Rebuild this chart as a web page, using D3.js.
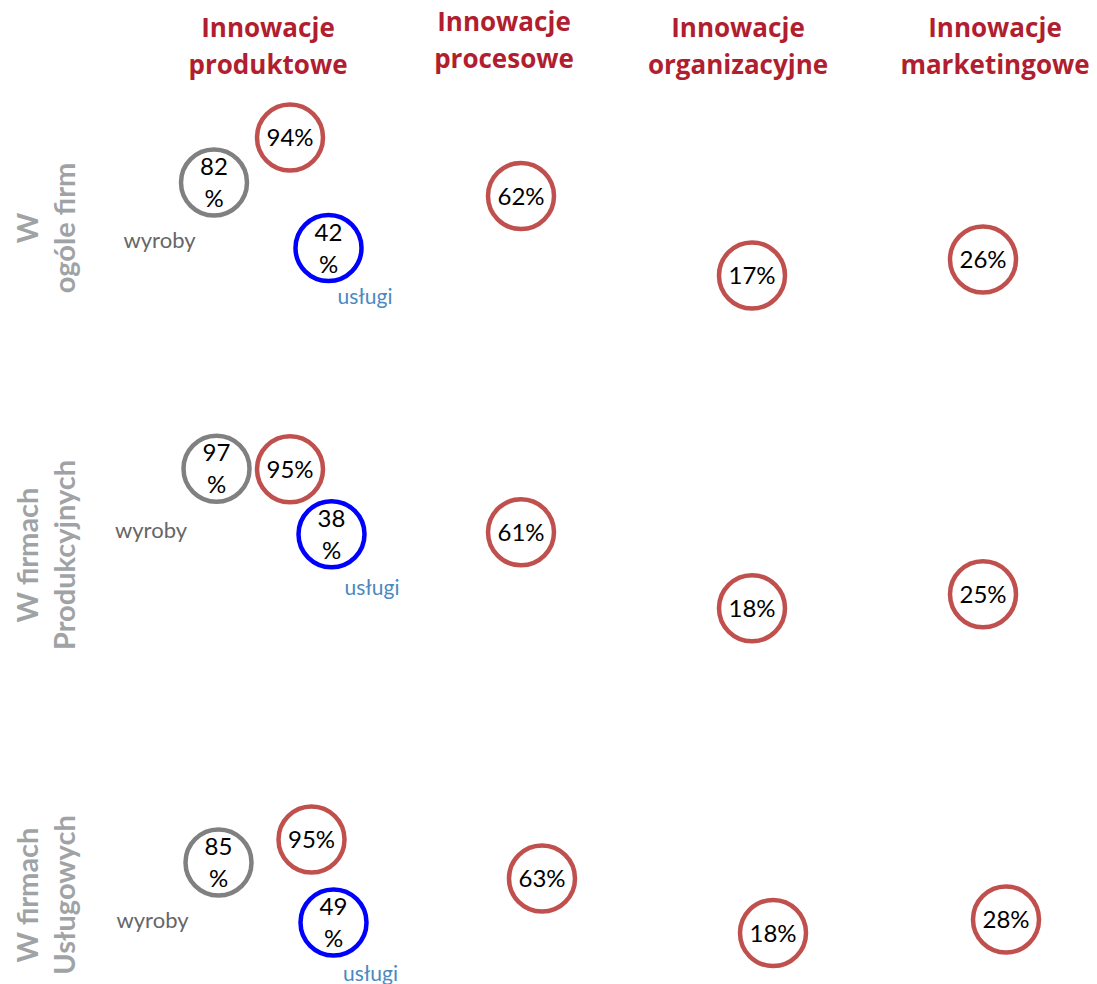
<!DOCTYPE html>
<html>
<head>
<meta charset="utf-8">
<script src="https://cdn.jsdelivr.net/npm/d3@7"></script>
<style>
  html, body { margin: 0; padding: 0; background: #fff; }
  svg { display: block; }
</style>
</head>
<body>
<svg id="chart" width="1097" height="984"></svg>
<script>
// ---------------- DATA ----------------
const columns = [
  ["Innowacje", "produktowe"],
  ["Innowacje", "procesowe"],
  ["Innowacje", "organizacyjne"],
  ["Innowacje", "marketingowe"]
];
const rows = [
  ["W", "ogóle firm"],
  ["W firmach", "Produkcyjnych"],
  ["W firmach", "Usługowych"]
];
const productTotal    = [94, 95, 95];   // innowacje produktowe ogółem
const productGoods    = [82, 97, 85];   // wyroby
const productServices = [42, 38, 49];   // usługi
const processValues   = [62, 61, 63];
const orgValues       = [17, 18, 18];
const marketingValues = [26, 25, 28];
const goodsLabel = "wyroby";
const servicesLabel = "usługi";

// ---------------- LAYOUT (offsets, not data) ----------------
const layout = [
  { total: [0, -58.5], goods: [-76, -13.5], services: [38.5, 52], proc: [0, 0], org: [0, 79.5], mkt: [0, 63.5],
    goodsLbl: [-54.5, 57.5], servLbl: [36.5, 48], labelY: 228 },
  { total: [0, -63], goods: [-73.5, -63.5], services: [41.5, 2], proc: [0, 0], org: [0, 76], mkt: [0, 62],
    goodsLbl: [-65.5, 61.5], servLbl: [40.5, 53], labelY: 555 },
  { total: [21.5, -39], goods: [-71.5, -16], services: [43.5, 44], proc: [21, 0], org: [21, 54.5], mkt: [23, 41],
    goodsLbl: [-66, 57.5], servLbl: [37, 50.5], labelY: 895 }
];
const headerShift = [-22, -17, -14, 12];

const svg = d3.select("#chart");

const x = d3.scaleLinear().domain([0, columns.length - 1]).range([290, 983]);
const y = d3.scaleLinear().domain([0, rows.length - 1]).range([196, 878.5]);
const rowY = i => y(i) + (i === 1 ? -5 : 0);

const C = {
  red: "#C0504D", gray: "#808080", blue: "#0000FF",
  header: "#B01E2F", rowLbl: "#A0A3A5", goods: "#666666", serv: "#4A89C0"
};
const R = 33;
const SW = 4.5;
const fontBody = "Lato, 'Open Sans', sans-serif";
const fontHead = "'Open Sans', Lato, sans-serif";

// headers
columns.forEach((lines, i) => {
  const yy = i === 1 ? 31 : 37;
  const t = svg.append("text")
    .attr("y", yy)
    .attr("text-anchor", "middle")
    .style("font-family", fontHead)
    .style("font-weight", 700)
    .style("font-size", "26px")
    .attr("fill", C.header);
  lines.forEach((l, k) => t.append("tspan").attr("x", x(i) + headerShift[i]).attr("dy", k === 0 ? 0 : 37).text(l));
});

// row labels
rows.forEach((lines, r) => {
  const g = svg.append("g").attr("transform", `translate(0,${layout[r].labelY}) rotate(-90)`);
  lines.forEach((l, k) => {
    g.append("text")
      .attr("x", 0).attr("y", k === 0 ? 38 : 75)
      .attr("text-anchor", "middle")
      .style("font-family", fontBody)
      .style("font-weight", 700)
      .style("font-size", "29px")
      .attr("fill", C.rowLbl)
      .text(l);
  });
});

function bubble(cx, cy, value, color, twoLine) {
  const g = svg.append("g").attr("transform", `translate(${cx},${cy})`);
  g.append("circle").attr("r", R).attr("fill", "#fff").attr("stroke", color).attr("stroke-width", SW);
  const t = g.append("text").attr("text-anchor", "middle")
    .style("font-family", fontBody).style("font-size", "24px").attr("fill", "#000");
  if (twoLine) {
    t.append("tspan").attr("x", 0).attr("y", -16).attr("dy", "0.36em").text(value);
    t.append("tspan").attr("x", 0).attr("y", 16).attr("dy", "0.36em").text("%");
  } else {
    t.attr("dy", "0.36em").text(value + "%");
  }
}

rows.forEach((_, r) => {
  const L = layout[r];
  const by = rowY(r);
  const x0 = x(0);
  bubble(x0 + L.total[0], by + L.total[1], productTotal[r], C.red, false);
  bubble(x0 + L.goods[0], by + L.goods[1], productGoods[r], C.gray, true);
  bubble(x0 + L.services[0], by + L.services[1], productServices[r], C.blue, true);
  bubble(x(1) + L.proc[0], by + L.proc[1], processValues[r], C.red, false);
  bubble(x(2) + L.org[0], by + L.org[1], orgValues[r], C.red, false);
  bubble(x(3) + L.mkt[0], by + L.mkt[1], marketingValues[r], C.red, false);

  const gx = x0 + L.goods[0], gy = by + L.goods[1];
  svg.append("text").attr("x", gx + L.goodsLbl[0]).attr("y", gy + L.goodsLbl[1]).attr("dy", "0.36em")
    .attr("text-anchor", "middle").style("font-family", fontBody).style("font-size", "22px")
    .attr("fill", C.goods).text(goodsLabel);
  const sx = x0 + L.services[0], sy = by + L.services[1];
  svg.append("text").attr("x", sx + L.servLbl[0]).attr("y", sy + L.servLbl[1]).attr("dy", "0.36em")
    .attr("text-anchor", "middle").style("font-family", fontBody).style("font-size", "21px")
    .attr("fill", C.serv).text(servicesLabel);
});
</script>
</body>
</html>
